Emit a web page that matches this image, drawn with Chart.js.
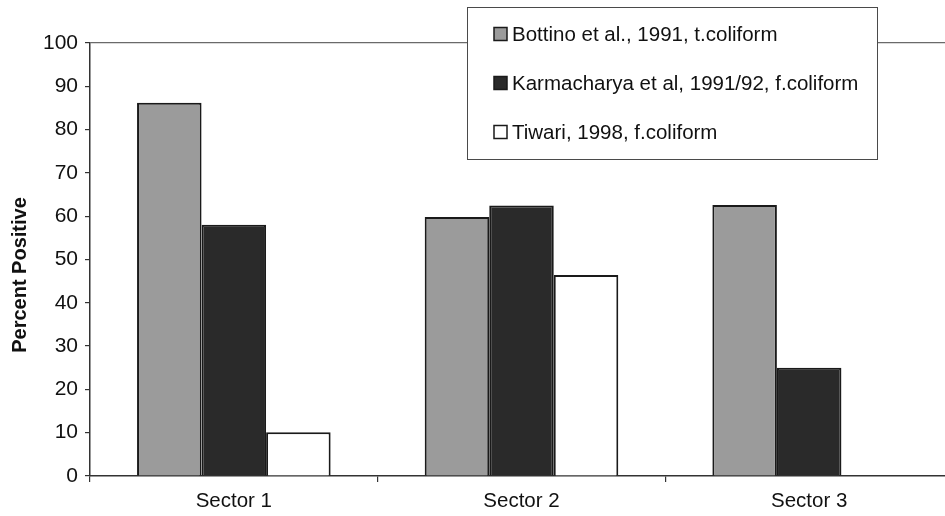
<!DOCTYPE html>
<html>
<head>
<meta charset="utf-8">
<script src="https://cdn.jsdelivr.net/npm/chart.js@4/dist/chart.umd.min.js"></script>
<style>
  html, body { margin: 0; padding: 0; background: #fff; overflow: hidden; }
  #wrap { width: 956px; height: 516px; }
</style>
</head>
<body>
<div id="wrap"><canvas id="chart" width="956" height="516"></canvas></div>
<script>
// Values (percent positive samples per sector)
const sectors = ['Sector 1', 'Sector 2', 'Sector 3'];
const bottino = [86.2, 59.8, 62.6];
const karmacharya = [58, 62.5, 25];
const tiwari = [10.1, 46.4, null];
const yTicks = [0, 10, 20, 30, 40, 50, 60, 70, 80, 90, 100];

const FONT = '"Liberation Sans", Arial, sans-serif';
const INK = '#1a1a1a';

// Boxed legend in the upper right, overlapping the top rule like the original.
const boxLegend = {
    id: 'boxLegend',
    afterDraw(chart) {
        const ctx = chart.ctx;
        const x0 = 467, y0 = 7, w = 410, h = 152;
        ctx.save();
        ctx.fillStyle = '#fff';
        ctx.fillRect(x0, y0, w, h);
        ctx.strokeStyle = '#4a4a4a';
        ctx.lineWidth = 1;
        ctx.strokeRect(x0 + 0.5, y0 + 0.5, w, h);
        ctx.font = '20.5px ' + FONT;
        ctx.textBaseline = 'middle';
        chart.data.datasets.forEach((ds, i) => {
            const cy = 34 + i * 49;
            ctx.fillStyle = ds.backgroundColor;
            ctx.fillRect(494, cy - 6.5, 13, 13);
            ctx.strokeStyle = INK;
            ctx.lineWidth = 1.5;
            ctx.strokeRect(494, cy - 6.5, 13, 13);
            ctx.fillStyle = '#111';
            ctx.fillText(ds.label, 512, cy + 1);
        });
        ctx.restore();
    }
};

// Rotated axis title, sitting a little below the plot's centre as in the source.
const yTitle = {
    id: 'yTitle',
    afterDraw(chart) {
        const ctx = chart.ctx;
        ctx.save();
        ctx.translate(20, 275);
        ctx.rotate(-Math.PI / 2);
        ctx.font = 'bold 20px ' + FONT;
        ctx.fillStyle = '#111';
        ctx.textAlign = 'center';
        ctx.textBaseline = 'middle';
        ctx.fillText('Percent Positive', 0, 0);
        ctx.restore();
    }
};

new Chart(document.getElementById('chart'), {
    type: 'bar',
    data: {
        labels: sectors,
        datasets: [
            { label: 'Bottino et al., 1991, t.coliform', data: bottino, backgroundColor: '#9b9b9b' },
            { label: 'Karmacharya et al, 1991/92, f.coliform', data: karmacharya, backgroundColor: '#2a2a2a' },
            { label: 'Tiwari, 1998, f.coliform', data: tiwari, backgroundColor: '#ffffff' },
        ].map(d => ({ ...d, borderColor: INK, borderWidth: 2, categoryPercentage: 0.673, barPercentage: 1 })),
    },
    options: {
        responsive: false,
        animation: false,
        devicePixelRatio: 1,
        layout: { padding: { top: 43, right: 3, left: 0, bottom: 0 } },
        plugins: {
            legend: { display: false },
            tooltip: { enabled: false },
        },
        scales: {
            x: {
                offset: true,
                grid: { offset: true, drawOnChartArea: false, color: '#333', tickLength: 6, lineWidth: 1.2 },
                border: { color: '#333', width: 1.5 },
                ticks: { color: '#111', font: { family: FONT, size: 20.5 }, padding: 7, maxRotation: 0 },
                afterFit(scale) { scale.height = 40; },
            },
            y: {
                min: 0,
                max: 100,
                afterBuildTicks(scale) { scale.ticks = yTicks.map(v => ({ value: v })); },
                grid: {
                    color: ctx => ctx.tick && ctx.tick.value === 100 ? '#6a6a6a' : 'transparent',
                    tickColor: '#333',
                    tickLength: 5,
                    lineWidth: 1.2,
                },
                border: { color: '#333', width: 1.5 },
                ticks: { color: '#111', font: { family: FONT, size: 21 }, padding: 7 },
                afterFit(scale) { scale.width = 90; },
            },
        },
    },
    plugins: [boxLegend, yTitle],
});
</script>
</body>
</html>
